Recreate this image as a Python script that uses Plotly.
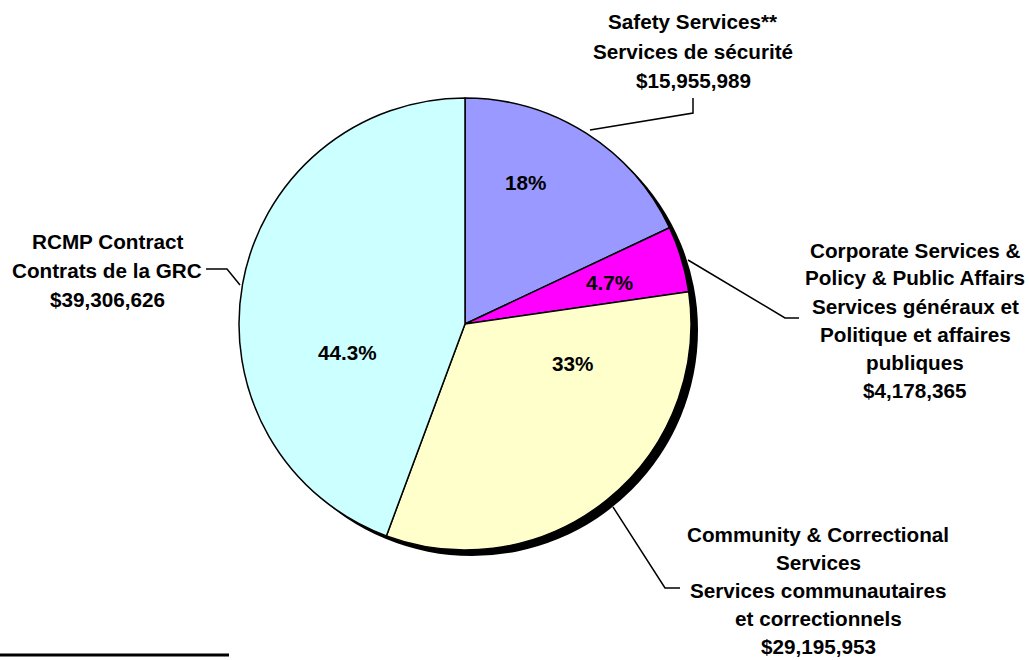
import plotly.graph_objects as go

W, H = 1029, 660

# ---- data ----
categories = ["Safety Services", "Corporate Services & Policy & Public Affairs",
              "Community & Correctional Services", "RCMP Contract"]
amounts = [15955989, 4178365, 29195953, 39306626]
pct_labels = ["18%", "4.7%", "33%", "44.3%"]
colors = ["#9999FF", "#FF00FF", "#FFFFCC", "#CCFFFF"]

label_lines = [
    ["Safety Services**", "Services de sécurité", "$15,955,989"],
    ["Corporate Services &", "Policy & Public Affairs", "Services généraux et",
     "Politique et affaires", "publiques", "$4,178,365"],
    ["Community & Correctional", "Services", "Services communautaires",
     "et correctionnels", "$29,195,953"],
    ["RCMP Contract", "Contrats de la GRC", "$39,306,626"],
]

# ---- layout helpers (pixel -> paper) ----
def px(x):
    return x / W

def py(y):
    return 1 - y / H

FONT = "Liberation Sans, Arial, sans-serif"
FS = 20.7

cx, cy, r = 465, 324, 226

fig = go.Figure()
fig.add_trace(go.Pie(
    labels=categories,
    values=amounts,
    textinfo="none",
    sort=False,
    direction="clockwise",
    rotation=0,
    marker=dict(colors=colors, line=dict(color="black", width=1.5)),
    domain=dict(x=[px(cx - r), px(cx + r)], y=[py(cy + r), py(cy - r)]),
    showlegend=False,
    hoverinfo="label+value+percent",
))

shapes = []
# drop shadow
sx, sy = 7, 6
shapes.append(dict(type="circle", xref="paper", yref="paper", layer="below",
                   x0=px(cx - r + sx), x1=px(cx + r + sx),
                   y0=py(cy + r + sy), y1=py(cy - r + sy),
                   fillcolor="black", line=dict(width=0)))

# leader lines (pixel points)
leaders = [
    [(590, 130), (693, 113), (693, 98)],
    [(688, 260), (785, 318), (799, 318)],
    [(613, 507), (665, 588), (680, 588)],
    [(240, 285), (227, 269), (206, 269)],
]
for pts in leaders:
    path = "M " + " L ".join(f"{px(x)},{py(y)}" for x, y in pts)
    shapes.append(dict(type="path", xref="paper", yref="paper", path=path,
                       line=dict(color="black", width=1.5)))

# footnote rule
shapes.append(dict(type="line", xref="paper", yref="paper",
                   x0=0, x1=px(229), y0=py(655), y1=py(655),
                   line=dict(color="black", width=3)))

# label positions: (center x, first line y, spacing)
label_pos = [(693, 22, 29.5), (915, 250, 28), (818, 534, 28.2), (107, 241, 29)]
# percentage label positions inside slices (pixels)
pct_pos = [(525, 182), (609, 283), (572, 363), (347, 352)]

annotations = []
for lines, (lx, ly, sp) in zip(label_lines, label_pos):
    for i, t in enumerate(lines):
        annotations.append(dict(
            x=px(lx), y=py(ly + i * sp), xref="paper", yref="paper",
            text=t, showarrow=False, xanchor="center", yanchor="middle",
            font=dict(family=FONT, size=FS, color="black", weight="bold"),
        ))
for t, (lx, ly) in zip(pct_labels, pct_pos):
    annotations.append(dict(
        x=px(lx), y=py(ly), xref="paper", yref="paper",
        text=t, showarrow=False, xanchor="center", yanchor="middle",
        font=dict(family=FONT, size=FS, color="black", weight="bold"),
    ))

fig.update_layout(
    width=W, height=H,
    margin=dict(l=0, r=0, t=0, b=0),
    paper_bgcolor="white", plot_bgcolor="white",
    shapes=shapes, annotations=annotations,
)

fig.write_html("out.html")
